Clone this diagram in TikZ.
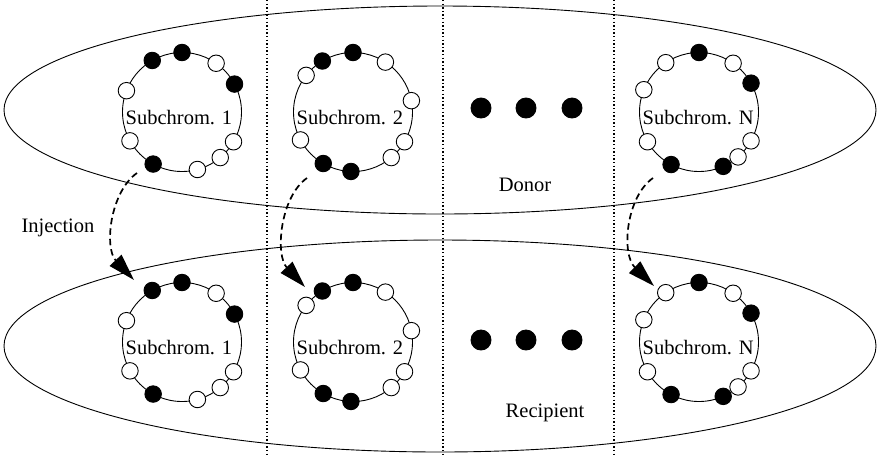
\documentclass[tikz,border=0pt]{standalone}
\usepackage{fontspec}
\setmainfont{Liberation Serif}
\usetikzlibrary{arrows.meta}
\begin{document}
\begin{tikzpicture}[x=1pt,y=-1pt,
  ring/.style={circle,draw,line width=0.9pt,minimum size=119pt,inner sep=0pt,outer sep=0pt},
  bk/.style={circle,draw,fill=black,line width=0.9pt,minimum size=16.5pt,inner sep=0pt},
  wt/.style={circle,draw,fill=white,line width=0.9pt,minimum size=16.5pt,inner sep=0pt},
  lbl/.style={font=\fontsize{20.5}{24}\selectfont,inner sep=0pt},
  sepline/.style={line width=1.3pt,dash pattern=on 1.3pt off 2.3pt},
  inj/.style={line width=1.7pt,dash pattern=on 6.5pt off 4pt,-{Triangle[length=27pt,width=16pt]}},
  ]
\useasboundingbox (0,0) rectangle (880,456);
% donor and recipient populations
\draw[line width=0.9pt] (440,110) ellipse [x radius=436, y radius=104];
\draw[line width=0.9pt] (440,346) ellipse [x radius=436, y radius=106];
% separators
\draw[sepline] (267,0) -- (267,456);
\draw[sepline] (443,0) -- (443,456);
\draw[sepline] (614,0) -- (614,456);
% rings
\foreach \r/\cx/\cy/\t/\bl/\wl in {
  a1/182/112/1/{120,90,28,241}/{55,159,209,285,310,330},
  a2/353/112/2/{121,90,240,268}/{142,57,11,208,310,330},
  aN/699/112/N/{90,29,242,294}/{124,55,158,210,311,331},
  b1/182/342/1/{120,90,28,241}/{55,159,209,285,310,330},
  b2/353/342/2/{121,90,240,268}/{142,57,11,208,310,330},
  bN/699/342/N/{90,29,242,294}/{124,55,158,210,311,331}}{
  \node[ring] (\r) at (\cx,\cy) {};
  \node[lbl,anchor=west] (\r-txt) at ([xshift=3pt,yshift=-5.5pt]\r.west) {Subchrom. \t};
  \foreach \a in \bl { \node[bk] (\r-\a) at (\r.\a) {}; }
  \foreach \a in \wl { \node[wt] (\r-\a) at (\r.\a) {}; }
}
% ellipsis dots
\foreach \n/\x in {1/481,2/526,3/572}{
  \node[bk,minimum size=20pt] (da\n) at (\x,108) {};
  \node[bk,minimum size=20pt] (db\n) at (\x,340) {};
}
% labels
\node[lbl] (donor) at (525,185) {Donor};
\node[lbl] (recip) at (545,413) {Recipient};
\node[lbl] (injl) at (58,228) {Injection};
% injection arrows
\coordinate (s1) at (137,173);
\coordinate (e1) at (134,280);
\coordinate (s2) at (307,178);
\coordinate (e2) at (305,287);
\coordinate (sN) at (653,178);
\coordinate (eN) at (654,286);
\draw[inj] (s1) .. controls (110,192) and (104,248) .. (e1);
\draw[inj] (s2) .. controls (280,197) and (275,255) .. (e2);
\draw[inj] (sN) .. controls (626,197) and (621,254) .. (eN);
\end{tikzpicture}
\end{document}
